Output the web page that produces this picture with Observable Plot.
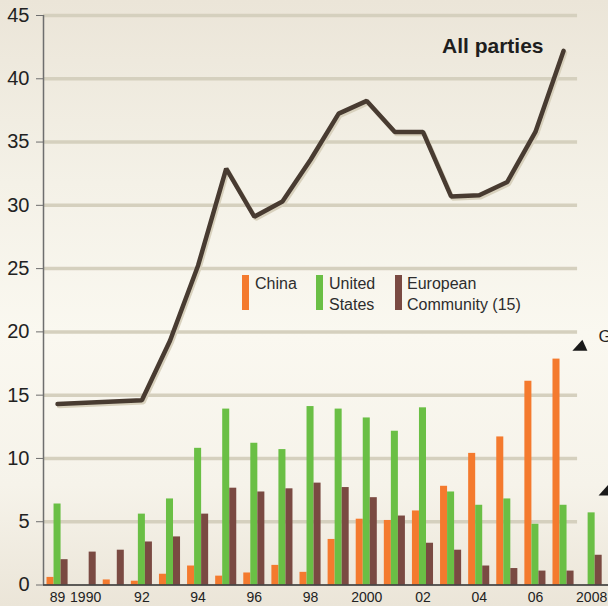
<!DOCTYPE html>
<html>
<head>
<meta charset="utf-8">
<script src="https://cdn.jsdelivr.net/npm/d3@7"></script>
<script src="https://cdn.jsdelivr.net/npm/@observablehq/plot@0.6"></script>
<style>
  html, body { margin: 0; padding: 0; }
  body { width: 608px; height: 606px; overflow: hidden;
    background: linear-gradient(to bottom, #ebe5d8 0%, #f4f1e7 30%, #faf8f0 55%, #f6f3ea 80%, #ebe5d8 100%); }
  #wrap { position: relative; width: 608px; height: 606px; }
  .leg { position: absolute; font-family: "Liberation Sans", Arial, sans-serif; font-size: 16px; line-height: 21px; color: #2d2d2d; white-space: nowrap; }
  .sw { position: absolute; width: 7px; height: 35px; }
</style>
</head>
<body>
<div id="wrap"></div>
<script>
// ---- data ----
const years = [1989,1990,1991,1992,1993,1994,1995,1996,1997,1998,1999,2000,2001,2002,2003,2004,2005,2006,2007,2008];
const china = [0.6,0,0.4,0.3,0.85,1.5,0.7,0.95,1.55,1.0,3.6,5.2,5.1,5.85,7.8,10.4,11.7,16.1,17.85,0];
const unitedStates = [6.4,0,0,5.6,6.8,10.8,13.9,11.2,10.7,14.1,13.9,13.2,12.15,14.0,7.35,6.3,6.8,4.8,6.3,5.7];
const europeanCommunity = [2.0,2.6,2.75,3.4,3.8,5.6,7.65,7.35,7.6,8.05,7.7,6.9,5.45,3.3,2.75,1.5,1.3,1.1,1.1,2.35];
const allPartiesYears = [1989,1990,1991,1992,1993,1994,1995,1996,1997,1998,1999,2000,2001,2002,2003,2004,2005,2006,2007];
const allParties = [14.3,14.4,14.5,14.6,19.3,25.25,32.9,29.1,30.3,33.6,37.25,38.25,35.8,35.8,30.7,30.8,31.85,35.8,42.2];
const yTicks = [0,5,10,15,20,25,30,35,40,45];
const xTickYears = [1989,1990,1992,1994,1996,1998,2000,2002,2004,2006,2008];
const xTickLabels = ["89","1990","92","94","96","98","2000","02","04","06","2008"];
const seriesNames = ["China","United States","European Community (15)"];
const seriesColors = ["#f47a2e","#6abf45","#7a4a42"];
const seriesValues = [china, unitedStates, europeanCommunity];
// clipped annotations at right edge of the original
const annotTriangles = [{year: 2007.6, value: 18.9}, {year: 2008.53, value: 7.47}];
const annotTexts = [{year: 2008.24, value: 19.6, text: "G"}];

// ---- build tables ----
const barW = 0.25;
const bars = [];
seriesValues.forEach((vals, si) => {
  years.forEach((yr, i) => bars.push({year: yr, series: seriesNames[si], idx: si, value: vals[i]}));
});
const lineData = allPartiesYears.map((yr, i) => ({year: yr, value: allParties[i]}));
const labelOf = new Map(xTickYears.map((y, i) => [y, xTickLabels[i]]));

// arrowhead-like triangle: flat bottom, apex toward upper right
const arrowHead = {
  draw(context) {
    context.moveTo(-8, 5);
    context.lineTo(7, 5);
    context.lineTo(2, -6);
    context.closePath();
  }
};

const font = '"Liberation Sans", Arial, sans-serif';
const chart = Plot.plot({
  width: 608, height: 606,
  marginLeft: 43, marginRight: 0, marginTop: 15, marginBottom: 21.5,
  style: {background: "transparent", fontFamily: font, overflow: "visible"},
  x: {type: "linear", domain: [1988.5, 2008.6]},
  y: {domain: [0, 45]},
  color: {domain: seriesNames, range: seriesColors},
  marks: [
    Plot.ruleY(yTicks.filter(v => v > 0), {x1: 1988.5, x2: 2007.5, stroke: "#d5d0be", strokeWidth: 3.5}),
    Plot.rectY(bars.filter(d => d.value > 0), {
      x1: d => d.year + (d.idx - 1.5) * barW,
      x2: d => d.year + (d.idx - 0.5) * barW,
      y1: 0, y2: "value", fill: "series"
    }),
    Plot.line(lineData, {x: "year", y: "value", stroke: "#d8d1bd", strokeWidth: 4.5, dx: 1.5, dy: 2, strokeLinejoin: "miter"}),
    Plot.line(lineData, {x: "year", y: "value", stroke: "#483b31", strokeWidth: 4.5, strokeLinejoin: "miter"}),
    Plot.ruleX([1988.5], {y1: 0, y2: 45, stroke: "#6e6e6e", strokeWidth: 1.5}),
    Plot.ruleY([0], {stroke: "#2b2b2b", strokeWidth: 1.5}),
    Plot.axisY({ticks: yTicks, tickSize: 7, tickPadding: 7, fontSize: 20, stroke: "#6e6e6e", fill: "#222", label: null, tickFormat: d => String(d)}),
    Plot.axisX({ticks: xTickYears, tickSize: 0, tickPadding: 7, fontSize: 14, fill: "#222", label: null, tickFormat: d => labelOf.get(d)}),
    Plot.text(lineData.slice(-1), {x: "year", y: "value", text: () => "All parties", textAnchor: "end", dx: -20, dy: -5, fontSize: 21, fontWeight: "bold", fill: "#1e1e1e"}),
    Plot.dot(annotTriangles, {x: "year", y: "value", symbol: arrowHead, fill: "#1a1a1a", stroke: "none"}),
    Plot.text(annotTexts, {x: "year", y: "value", text: "text", textAnchor: "start", fontSize: 17, fill: "#222"})
  ]
});
const wrap = document.getElementById("wrap");
wrap.appendChild(chart);

// legend inside the plot area
const legendItems = [
  {name: "China", lines: ["China"], swLeft: 242, textLeft: 255},
  {name: "United States", lines: ["United", "States"], swLeft: 316, textLeft: 329},
  {name: "European Community (15)", lines: ["European", "Community (15)"], swLeft: 395, textLeft: 407}
];
legendItems.forEach((it, i) => {
  const sw = document.createElement("div");
  sw.className = "sw";
  sw.style.left = it.swLeft + "px"; sw.style.top = "275px";
  sw.style.background = seriesColors[i];
  wrap.appendChild(sw);
  const t = document.createElement("div");
  t.className = "leg";
  t.style.left = it.textLeft + "px"; t.style.top = "273px";
  t.innerHTML = it.lines.join("<br>");
  wrap.appendChild(t);
});
</script>
</body>
</html>
